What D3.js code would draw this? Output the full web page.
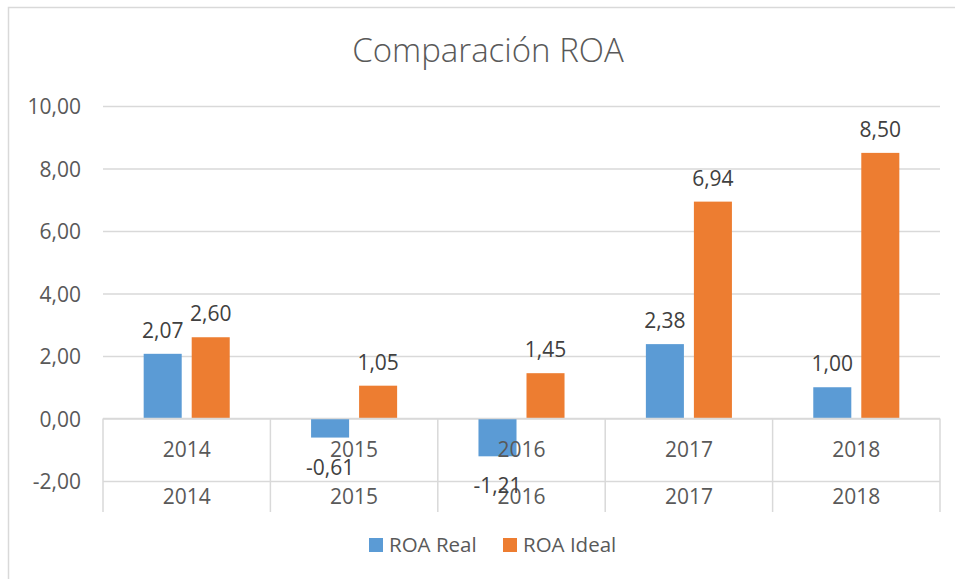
<!DOCTYPE html>
<html><head><meta charset="utf-8">
<script src="https://cdn.jsdelivr.net/npm/d3@7"></script>
<style>body{margin:0;background:#fff}svg{display:block}text{font-family:"Open Sans",sans-serif}</style>
</head><body>
<script>
const categories = ["2014","2015","2016","2017","2018"];
const seriesNames = ["ROA Real","ROA Ideal"];
const roaReal = [2.07,-0.61,-1.21,2.38,1.00];
const roaIdeal = [2.60,1.05,1.45,6.94,8.50];
const yTicks = [-2,0,2,4,6,8,10];
const colors = ["#5B9BD5","#ED7D31"];

const W=955,H=579;
const svg=d3.select("body").append("svg").attr("width",W).attr("height",H);
// chart area border (top and left visible)
svg.append("rect").attr("x",8.5).attr("y",7.5).attr("width",W+20).attr("height",H+20)
  .attr("fill","#fff").attr("stroke","#d9d9d9").attr("stroke-width",1.5);

const fmt=v=>(v<0?"-":"")+d3.format(".2f")(Math.abs(v)).replace(".",",");
const x0=d3.scaleBand().domain(categories).range([103,940]);
const x1=d3.scaleBand().domain(seriesNames).range([0,x0.bandwidth()]).paddingInner(0.208).paddingOuter(0.847);
const y=d3.scaleLinear().domain([-2,10]).range([481,106]);

svg.append("text").attr("x",488).attr("y",62).attr("text-anchor","middle")
  .attr("font-size",33).attr("font-weight",300).attr("fill","#595959").text("Comparación ROA");

// gridlines
const yAxis=d3.axisLeft(y).tickValues(yTicks).tickSize(-(940-103)).tickFormat(fmt).tickPadding(22);
const gy=svg.append("g").attr("transform","translate(103,0)").call(yAxis);
gy.select(".domain").remove();
gy.selectAll(".tick line").attr("stroke","#d9d9d9").attr("stroke-width",1.5);
gy.selectAll(".tick text").attr("font-size",21).attr("fill","#595959").attr("dy","0.36em");

// bars
const data=categories.map((c,i)=>({c,vals:[roaReal[i],roaIdeal[i]]}));
const g=svg.append("g");
data.forEach(d=>{
  d.vals.forEach((v,j)=>{
    const bx=x0(d.c)+x1(seriesNames[j]);
    g.append("rect").attr("x",bx).attr("width",x1.bandwidth())
      .attr("y",y(Math.max(0,v))).attr("height",Math.abs(y(v)-y(0)))
      .attr("fill",colors[j]);
  });
});

// category axis (multi-level)
const ax=svg.append("g");
const y0=y(0), yBot=512;
ax.append("line").attr("x1",103).attr("x2",940).attr("y1",y0).attr("y2",y0).attr("stroke","#d9d9d9").attr("stroke-width",1.5);
const bounds=categories.map(c=>x0(c)).concat([940]);
bounds.forEach(bx=>{
  ax.append("line").attr("x1",bx).attr("x2",bx).attr("y1",y0).attr("y2",yBot).attr("stroke","#d9d9d9").attr("stroke-width",1.5);
});
categories.forEach(c=>{
  const cx=x0(c)+x0.bandwidth()/2;
  ax.append("text").attr("x",cx).attr("y",457).attr("text-anchor","middle").attr("font-size",21).attr("fill","#595959").text(c);
  ax.append("text").attr("x",cx).attr("y",504).attr("text-anchor","middle").attr("font-size",21).attr("fill","#595959").text(c);
});

// data labels
data.forEach(d=>{
  d.vals.forEach((v,j)=>{
    const cx=x0(d.c)+x1(seriesNames[j])+x1.bandwidth()/2;
    const ly= v>=0 ? y(v)-16 : y(v)+37;
    svg.append("text").attr("x",cx).attr("y",ly).attr("text-anchor","middle")
      .attr("font-size",21).attr("fill","#404040").text(fmt(v));
  });
});

// legend
const leg=svg.append("g");
const legX=[369,503];
seriesNames.forEach((s,j)=>{
  leg.append("rect").attr("x",legX[j]).attr("y",538).attr("width",14).attr("height",14).attr("fill",colors[j]);
  leg.append("text").attr("x",legX[j]+20).attr("y",552).attr("font-size",20.5).attr("fill","#595959").text(s);
});
</script>
</body></html>
